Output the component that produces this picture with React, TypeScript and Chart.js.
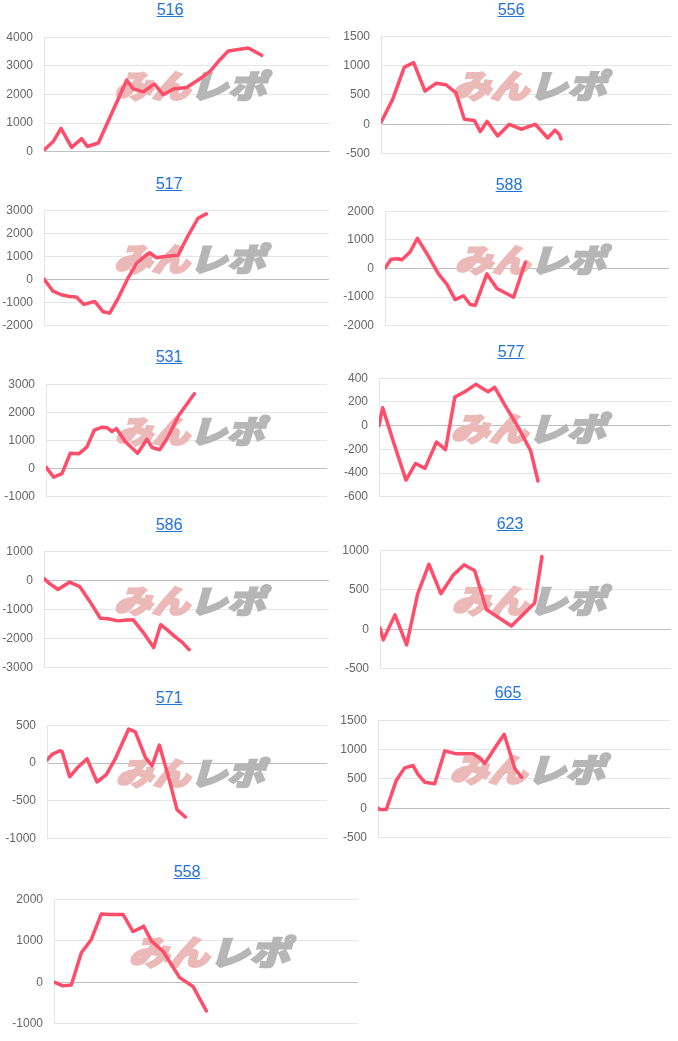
import React, { useEffect, useRef } from "react";
import { Chart, registerables } from "chart.js";

Chart.register(...registerables);

// ---------------- data ----------------
const GAMES_MAX = 9000;

const games516 = [0, 290, 535, 870, 1185, 1364, 1710, 2601, 2811, 3126, 3472, 3755, 4070, 4490, 4909, 5224, 5538, 5800, 6010, 6430, 6850];
const diff516 = [60, 357, 816, 153, 459, 184, 306, 2500, 2194, 2092, 2367, 1990, 2194, 2245, 2551, 2806, 3214, 3520, 3551, 3622, 3367];

const games556 = [0, 362, 724, 1014, 1366, 1707, 2017, 2328, 2586, 2897, 3083, 3290, 3621, 3983, 4345, 4790, 5172, 5400, 5534, 5586];
const diff556 = [37, 425, 973, 1050, 565, 699, 674, 535, 87, 67, -122, 52, -197, 2, -82, 2, -231, -97, -172, -246];

const games517 = [0, 284, 547, 811, 1021, 1253, 1600, 1863, 2074, 2337, 2653, 2916, 3179, 3337, 3547, 3863, 4232, 4547, 4863, 5126];
const diff517 = [25, -505, -657, -732, -758, -1073, -947, -1389, -1452, -820, 63, 694, 1010, 1162, 947, 1010, 1048, 1894, 2652, 2841];

const games588 = [0, 191, 424, 529, 794, 1027, 1324, 1694, 1959, 2224, 2488, 2700, 2859, 3229, 3547, 4076, 4447];
const diff588 = [15, 321, 341, 300, 575, 1053, 524, -188, -545, -1084, -952, -1257, -1288, -188, -697, -1003, 219];

const games531 = [0, 246, 512, 779, 1046, 1206, 1313, 1548, 1794, 1954, 2114, 2253, 2541, 2936, 3235, 3395, 3641, 3875, 4249, 4751];
const diff531 = [52, -299, -175, 546, 526, 670, 773, 1371, 1474, 1454, 1320, 1423, 959, 546, 1041, 753, 670, 1062, 1887, 2660];

const games577 = [0, 113, 441, 830, 1128, 1415, 1773, 2050, 2337, 2645, 2983, 3362, 3567, 3875, 4285, 4674, 4900];
const diff577 = [0, 151, -133, -459, -319, -360, -138, -202, 242, 286, 348, 286, 323, 175, -10, -212, -467];

const games586 = [0, 179, 442, 811, 1126, 1442, 1779, 2021, 2337, 2547, 2811, 3126, 3463, 3684, 3863, 4126, 4368, 4579];
const diff586 = [60, -111, -312, -60, -212, -715, -1300, -1320, -1390, -1370, -1350, -1773, -2307, -1521, -1673, -1924, -2126, -2378];

const games623 = [0, 103, 463, 823, 1162, 1512, 1882, 2263, 2602, 2931, 3291, 4063, 4783, 5009];
const diff623 = [15, -134, 182, -197, 443, 822, 450, 685, 815, 741, 249, 41, 331, 919];

const games571 = [0, 161, 407, 482, 729, 986, 1286, 1607, 1907, 2196, 2625, 2839, 3161, 3375, 3611, 3911, 4179, 4446];
const diff571 = [38, 115, 162, 154, -181, -58, 58, -250, -154, 58, 450, 412, 77, -38, 238, -192, -615, -712];

const games665 = [0, 51, 257, 566, 823, 1080, 1234, 1440, 1749, 2057, 2417, 2931, 3137, 3291, 3600, 3888, 4217, 4423];
const diff665 = [7, -17, -17, 480, 689, 729, 580, 445, 420, 978, 928, 928, 853, 764, 1027, 1261, 679, 530];

const games558 = [0, 266, 513, 809, 1105, 1401, 1648, 2043, 2339, 2586, 2655, 2882, 3227, 3720, 4115, 4510];
const diff558 = [5, -87, -66, 711, 1031, 1646, 1633, 1633, 1222, 1314, 1350, 996, 748, 111, -101, -688];

const WM_PINK = "みん";
const WM_GRAY = "レポ";

// ---------------- layout ----------------
type Spec = {
  id: string;
  games: number[];
  diff: number[];
  yMin: number;
  yMax: number;
  yStep: number;
  canvasLeft: number;
  L: number;
  R: number;
  T: number;
  B: number;
  titleX: number;
  titleY: number;
};

const SPECS: Spec[] = [
  { id: "516", games: games516, diff: diff516, yMin: 0, yMax: 4000, yStep: 1000, canvasLeft: 0, L: 44, R: 330, T: 29, B: 160, titleX: 170, titleY: 10 },
  { id: "517", games: games517, diff: diff517, yMin: -2000, yMax: 3000, yStep: 1000, canvasLeft: 0, L: 44, R: 329, T: 202, B: 334, titleX: 169, titleY: 184 },
  { id: "531", games: games531, diff: diff531, yMin: -1000, yMax: 3000, yStep: 1000, canvasLeft: 0, L: 46, R: 327, T: 376, B: 505, titleX: 169, titleY: 357 },
  { id: "586", games: games586, diff: diff586, yMin: -3000, yMax: 1000, yStep: 1000, canvasLeft: 0, L: 44, R: 329, T: 543, B: 676, titleX: 169, titleY: 525 },
  { id: "571", games: games571, diff: diff571, yMin: -1000, yMax: 500, yStep: 500, canvasLeft: 0, L: 47, R: 327, T: 717, B: 847, titleX: 169, titleY: 698 },
  { id: "558", games: games558, diff: diff558, yMin: -1000, yMax: 2000, yStep: 1000, canvasLeft: 0, L: 54, R: 358, T: 891, B: 1032, titleX: 187, titleY: 872 },
  { id: "556", games: games556, diff: diff556, yMin: -500, yMax: 1500, yStep: 500, canvasLeft: 334, L: 381, R: 671, T: 28, B: 162, titleX: 511, titleY: 10 },
  { id: "588", games: games588, diff: diff588, yMin: -2000, yMax: 2000, yStep: 1000, canvasLeft: 334, L: 385, R: 669, T: 203, B: 334, titleX: 509, titleY: 185 },
  { id: "577", games: games577, diff: diff577, yMin: -600, yMax: 400, yStep: 200, canvasLeft: 334, L: 379, R: 671, T: 370, B: 505, titleX: 511, titleY: 352 },
  { id: "623", games: games623, diff: diff623, yMin: -500, yMax: 1000, yStep: 500, canvasLeft: 334, L: 380, R: 671, T: 542, B: 677, titleX: 510, titleY: 524 },
  { id: "665", games: games665, diff: diff665, yMin: -500, yMax: 1500, yStep: 500, canvasLeft: 334, L: 378, R: 670, T: 712, B: 846, titleX: 508, titleY: 693 },
];

const PAD_T = 10;
const PAD_B = 10;
const PAD_R = 6;
const LINE_COLOR = "rgb(255, 77, 106)";
const TICK_FONT = 'Arial, "Liberation Sans", sans-serif';

const watermarkPlugin = {
  id: "watermark",
  beforeDatasetsDraw(chart: any) {
    const { ctx, chartArea: a } = chart;
    const aw = a.right - a.left;
    const targetW = aw * 0.53;
    const targetH = aw * 0.095;
    const cx = (a.left + a.right) / 2 + 3;
    const cy = (a.top + a.bottom) / 2 - 9;
    const fs = targetH / 0.85;
    ctx.save();
    ctx.font = `italic 900 ${fs}px "Noto Sans CJK JP"`;
    ctx.textBaseline = "middle";
    ctx.lineJoin = "miter";
    ctx.lineWidth = 2.2;
    const w1 = ctx.measureText(WM_PINK).width;
    const w2 = ctx.measureText(WM_GRAY).width;
    const sx = targetW / (w1 + w2);
    ctx.translate(cx, cy);
    ctx.scale(sx, 1);
    ctx.fillStyle = "#ecb9b9";
    ctx.strokeStyle = "#ecb9b9";
    ctx.fillText(WM_PINK, -(w1 + w2) / 2, 0);
    ctx.strokeText(WM_PINK, -(w1 + w2) / 2, 0);
    ctx.fillStyle = "#b6b6b6";
    ctx.strokeStyle = "#b6b6b6";
    ctx.fillText(WM_GRAY, -(w1 + w2) / 2 + w1, 0);
    ctx.strokeText(WM_GRAY, -(w1 + w2) / 2 + w1, 0);
    ctx.restore();
  },
};

function MiniChart({ spec }: { spec: Spec }) {
  const ref = useRef<HTMLCanvasElement | null>(null);
  const width = spec.R + PAD_R - spec.canvasLeft;
  const height = spec.B - spec.T + PAD_T + PAD_B;

  useEffect(() => {
    if (!ref.current) return;
    const chart = new Chart(ref.current, {
      type: "line",
      data: {
        datasets: [
          {
            data: spec.games.map((g, i) => ({ x: g, y: spec.diff[i] })),
            borderColor: LINE_COLOR,
            borderWidth: 3.5,
            borderJoinStyle: "round",
            borderCapStyle: "round",
            pointRadius: 0,
            pointHoverRadius: 0,
            tension: 0,
            fill: false,
          },
        ],
      },
      options: {
        animation: false,
        responsive: false,
        events: [],
        layout: { padding: { top: PAD_T, bottom: PAD_B, right: PAD_R, left: 0 } },
        plugins: {
          legend: { display: false },
          tooltip: { enabled: false },
        },
        scales: {
          x: { type: "linear", min: 0, max: GAMES_MAX, display: false },
          y: {
            min: spec.yMin,
            max: spec.yMax,
            ticks: {
              stepSize: spec.yStep,
              padding: 11,
              color: "#666",
              font: { family: TICK_FONT, size: 12 },
              callback: (v: any) => String(v),
            },
            grid: {
              drawTicks: false,
              color: (c: any) => (c.tick && c.tick.value === 0 ? "rgba(0,0,0,0.25)" : "rgba(0,0,0,0.1)"),
              lineWidth: 1,
            },
            border: { color: "rgba(0,0,0,0.1)" },
            afterFit: (s: any) => {
              s.width = spec.L - spec.canvasLeft;
            },
          },
        },
      } as any,
      plugins: [watermarkPlugin],
    });
    return () => chart.destroy();
  }, [spec]);

  return (
    <>
      <div
        style={{
          position: "absolute",
          left: spec.titleX - 60,
          top: spec.titleY - 9,
          width: 120,
          textAlign: "center",
          fontFamily: TICK_FONT,
          fontSize: 16,
          lineHeight: "18px",
        }}
      >
        <a href="#" style={{ color: "#1f74d4", textDecoration: "underline" }} onClick={(e) => e.preventDefault()}>
          {spec.id}
        </a>
      </div>
      <canvas
        ref={ref}
        width={width}
        height={height}
        style={{
          position: "absolute",
          left: spec.canvasLeft,
          top: spec.T - PAD_T,
          width,
          height,
        }}
      />
    </>
  );
}

export default function App() {
  return (
    <div style={{ position: "absolute", left: 0, top: 0, width: 678, height: 1041, background: "#fff", overflow: "hidden" }}>
      {SPECS.map((s) => (
        <MiniChart key={s.id} spec={s} />
      ))}
    </div>
  );
}
